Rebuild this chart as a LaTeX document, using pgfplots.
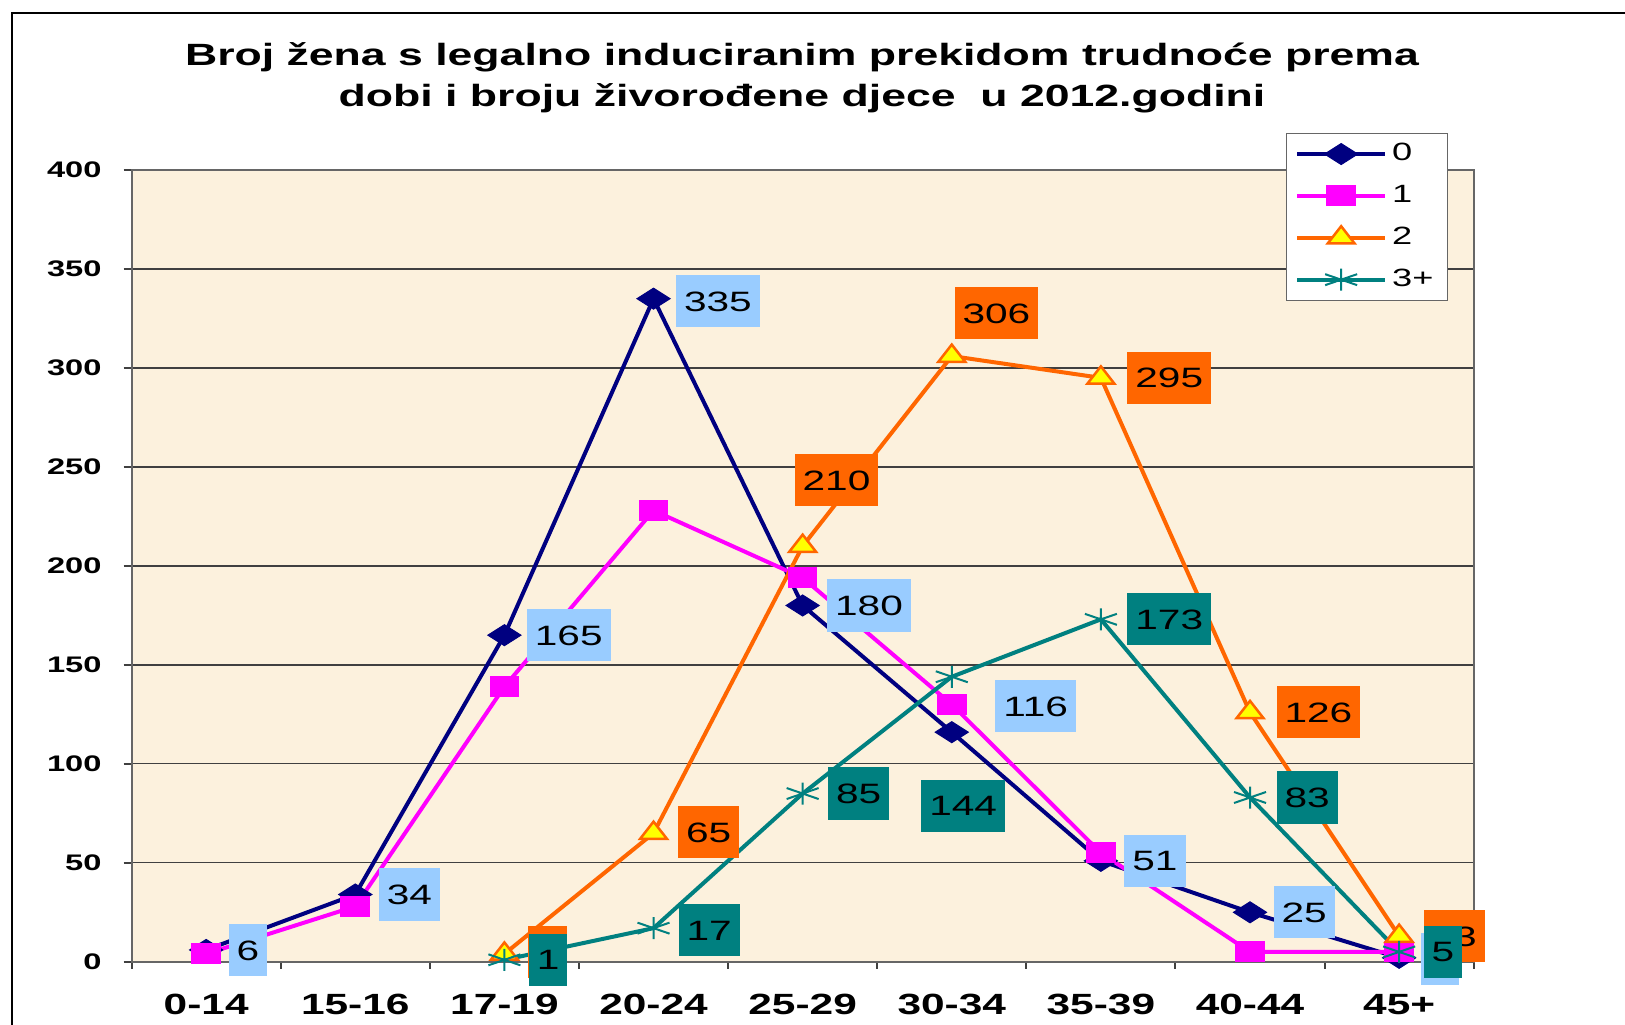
\documentclass[border=0pt]{standalone}
\usepackage{pgfplots}
\pgfplotsset{compat=1.18}
\usepackage{pgfplotstable}
\usepackage{fontspec}
\setmainfont{Liberation Sans}[FakeStretch=1.45]

\definecolor{navyc}{RGB}{0,0,128}
\definecolor{magc}{RGB}{255,0,255}
\definecolor{orac}{RGB}{255,102,0}
\definecolor{tealc}{RGB}{0,128,128}
\definecolor{lblue}{RGB}{153,204,255}
\definecolor{yelc}{RGB}{255,255,0}
\definecolor{bgc}{RGB}{252,241,221}

\pgfplotstableread{
x y dx dy
0 6 8.8 0
1 34 9.2 0
2 165 8.8 0
3 335 8.8 -1
4 180 9.6 0
5 116 17.2 10.4
6 51 9.2 0
7 25 9.2 0
8 2 8.4 -0.5
}\tzero

\pgfplotstableread{
x y
0 4
1 28
2 139
3 228
4 194
5 130
6 55
7 5
8 5
}\tone

\pgfplotstableread{
x y dx dy
2 4 9.4 0.8
3 65 9.6 0.4
4 210 -3.4 26.4
5 306 0.9 17.2
6 295 10.4 0
7 126 10.4 0
8 13 9.6 0
}\ttwo

\pgfplotstableread{
x y dx dy
2 1 9.6 0
3 17 9.8 -0.8
4 85 10 0
5 144 -12.4 -51.6
6 173 10.4 0
7 83 10.4 0
8 5 9.6 0
}\tthree

\pgfplotsset{
  lbl/.style={only marks, mark=none, forget plot,
    visualization depends on={\thisrow{dx}\as\lblx},
    visualization depends on={\thisrow{dy}\as\lbly},
    nodes near coords,
    nodes near coords style={anchor=west, fill=#1, text=black, draw=none,
      inner xsep=3.2pt, inner ysep=6.4pt, text height=8.06pt, text depth=0pt,
      font=\fontsize{11.2}{13}\selectfont, xshift=\lblx pt, yshift=\lbly pt}},
}

\begin{document}
\begin{tikzpicture}
\path[use as bounding box] (0,0) rectangle (650pt,409.6pt);
\draw[line width=0.8pt] (4.7pt,-20pt) -- (4.7pt,404.5pt) -- (700pt,404.5pt);
\node[align=center, font=\bfseries\fontsize{12.3}{16.4}\selectfont] at (320.8pt,378.5pt)
  {Broj žena s legalno induciranim prekidom trudnoće prema\\dobi i broju živorođene djece\ \ u 2012.godini};
\begin{axis}[
  at={(52.64pt,24.88pt)}, anchor=south west,
  scale only axis, width=536.84pt, height=316.72pt,
  xmin=-0.5, xmax=8.5, ymin=0, ymax=400,
  xtick={0,...,8},
  xticklabels={0-14,15-16,17-19,20-24,25-29,30-34,35-39,40-44,45+},
  minor xtick={-0.5,0.5,...,8.5},
  ytick={0,50,...,400},
  tick pos=left,
  ymajorgrids,
  major grid style={black!75, line width=0.5pt},
  tick align=outside,
  major tick length=3.2pt,
  minor tick length=2.8pt,
  tick style={black!75, line width=0.8pt},
  major x tick style={draw=none},
  axis line style={black!60, line width=0.8pt},
  axis background/.style={fill=bgc},
  clip=false,
  /pgf/number format/assume math mode=true,
  xticklabel style={font=\bfseries\fontsize{11.7}{14}\selectfont, yshift=-6.2pt},
  yticklabel style={font=\bfseries\fontsize{9}{11}\selectfont, xshift=-5.3pt},
  legend style={at={(0.8599,1.0471)}, anchor=north west, draw=black!60, line width=0.6pt,
    fill=white, font=\fontsize{10}{12}\selectfont, row sep=4.3pt, inner xsep=3.5pt, inner ysep=2pt},
  legend cell align=left,
  legend image code/.code={\draw[mark repeat=2,mark phase=2,#1] plot coordinates {(0pt,0pt) (17.6pt,0pt) (35.2pt,0pt)};},
]
\addplot[navyc, line width=1.6pt, mark=diamond*, mark size=4.2pt,
  mark options={fill=navyc, draw=navyc, line width=0.4pt, xscale=2.1}] table[x=x,y=y]{\tzero};
\addlegendentry{0}
\addplot[magc, line width=1.6pt, mark=square*, mark size=4pt,
  mark options={fill=magc, draw=magc, line width=0.4pt, xscale=1.43}] table[x=x,y=y]{\tone};
\addlegendentry{1}
\addplot[orac, line width=1.6pt, mark=triangle*, mark size=4.6pt,
  mark options={fill=yelc, draw=orac, line width=1pt, xscale=1.35}] table[x=x,y=y]{\ttwo};
\addlegendentry{2}
\addplot[tealc, line width=1.6pt, mark=asterisk, mark size=4.4pt,
  mark options={draw=tealc, line width=0.8pt, xscale=1.68}] table[x=x,y=y]{\tthree};
\addlegendentry{3+}
\addplot[lbl=orac] table[x=x,y=y]{\ttwo};
\addplot[lbl=lblue] table[x=x,y=y]{\tzero};
\addplot[lbl=tealc] table[x=x,y=y]{\tthree};
\end{axis}
\end{tikzpicture}
\end{document}
